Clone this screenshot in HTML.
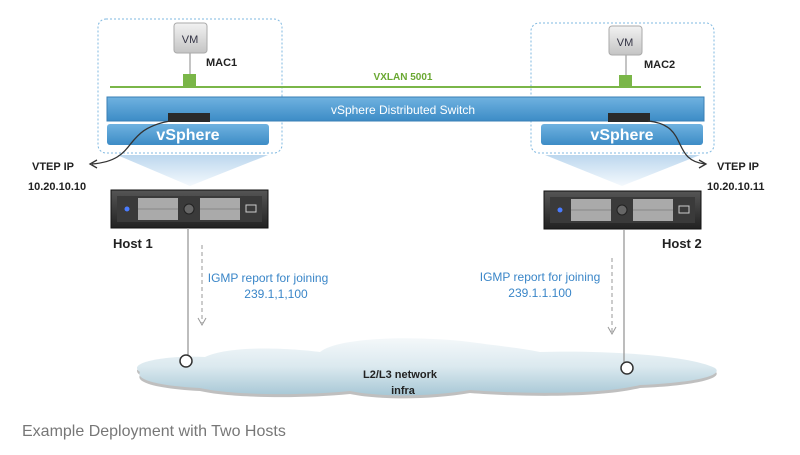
<!DOCTYPE html>
<html><head><meta charset="utf-8"><style>
body{margin:0;background:#fff;width:800px;height:450px;overflow:hidden;font-family:"Liberation Sans",sans-serif}
</style></head><body>
<svg width="800" height="450" viewBox="0 0 800 450" xmlns="http://www.w3.org/2000/svg" font-family="Liberation Sans, sans-serif">
<defs>
<linearGradient id="tri" x1="0" y1="0" x2="0" y2="1"><stop offset="0" stop-color="#bcd7ee"/><stop offset="1" stop-color="#f4f9fd"/></linearGradient>
<linearGradient id="vm" x1="0" y1="0" x2="0" y2="1"><stop offset="0" stop-color="#f2f2f2"/><stop offset="1" stop-color="#c4c4c4"/></linearGradient>
<linearGradient id="vs" x1="0" y1="0" x2="0" y2="1"><stop offset="0" stop-color="#6fb2e0"/><stop offset="1" stop-color="#3d8cc6"/></linearGradient>
<linearGradient id="cl" gradientUnits="userSpaceOnUse" x1="0" y1="338" x2="0" y2="395"><stop offset="0" stop-color="#f4f8fa"/><stop offset="0.5" stop-color="#dbe9ef"/><stop offset="1" stop-color="#a8c8d6"/></linearGradient>
<linearGradient id="srv" x1="0" y1="0" x2="0" y2="1"><stop offset="0" stop-color="#555"/><stop offset="1" stop-color="#222"/></linearGradient>
</defs>
<polygon points="117,155 268,155 190,186" fill="url(#tri)"/>
<polygon points="545,155 700,155 622,186" fill="url(#tri)"/>
<rect x="98" y="19" width="184" height="134" rx="8" fill="none" stroke="#7fb8e0" stroke-dasharray="2,2"/>
<rect x="531" y="23" width="183" height="130" rx="8" fill="none" stroke="#7fb8e0" stroke-dasharray="2,2"/>
<line x1="190" y1="53" x2="190" y2="80" stroke="#888"/>
<line x1="626" y1="55" x2="626" y2="80" stroke="#888"/>
<rect x="174" y="23" width="33" height="30" rx="3" fill="url(#vm)" stroke="#aaa"/>
<text x="190" y="43" font-size="11" fill="#334" text-anchor="middle">VM</text>
<rect x="609" y="26" width="33" height="29" rx="3" fill="url(#vm)" stroke="#aaa"/>
<text x="625" y="46" font-size="11" fill="#334" text-anchor="middle">VM</text>
<text x="206" y="66" font-size="11" font-weight="bold" fill="#222">MAC1</text>
<text x="644" y="68" font-size="11" font-weight="bold" fill="#222">MAC2</text>
<line x1="110" y1="87" x2="701" y2="87" stroke="#7ab648" stroke-width="2"/>
<rect x="183" y="74" width="13" height="14" fill="#7ab648"/>
<rect x="619" y="75" width="13" height="13" fill="#7ab648"/>
<text x="403" y="80" font-size="10" font-weight="bold" fill="#6aa832" text-anchor="middle">VXLAN 5001</text>
<rect x="107" y="97" width="597" height="24" fill="url(#vs)" stroke="#3a7fb5"/>
<text x="403" y="114" font-size="12" fill="#fff" text-anchor="middle">vSphere Distributed Switch</text>
<rect x="107" y="124" width="162" height="21" rx="3" fill="url(#vs)"/>
<text x="188" y="140" font-size="16" font-weight="bold" fill="#fff" text-anchor="middle">vSphere</text>
<rect x="541" y="124" width="162" height="21" rx="3" fill="url(#vs)"/>
<text x="622" y="140" font-size="16" font-weight="bold" fill="#fff" text-anchor="middle">vSphere</text>
<rect x="168" y="113" width="42" height="9" fill="#2a2a2a"/>
<rect x="608" y="113" width="42" height="9" fill="#2a2a2a"/>
<path d="M170,121 C120,130 140,160 92,164" fill="none" stroke="#333" stroke-width="1.3"/>
<path d="M97,160 L90,164 L97,168" fill="none" stroke="#333" stroke-width="1.3"/>
<path d="M648,121 C690,125 670,160 705,164" fill="none" stroke="#333" stroke-width="1.3"/>
<path d="M699,160 L706,164 L699,168" fill="none" stroke="#333" stroke-width="1.3"/>
<text x="32" y="170" font-size="11" font-weight="bold" fill="#222">VTEP IP</text>
<text x="28" y="190" font-size="11" font-weight="bold" fill="#222">10.20.10.10</text>
<text x="717" y="170" font-size="11" font-weight="bold" fill="#222">VTEP IP</text>
<text x="707" y="190" font-size="11" font-weight="bold" fill="#222">10.20.10.11</text>
<g>
<rect x="111" y="190" width="157" height="38" fill="url(#srv)" stroke="#111"/>
<rect x="117" y="196" width="145" height="26" fill="#3a3a3a"/>
<circle cx="127" cy="209" r="2.5" fill="#4a7cff"/>
<rect x="138" y="198" width="40" height="22" fill="#aaa"/><line x1="138" y1="209" x2="178" y2="209" stroke="#888"/>
<circle cx="189" cy="209" r="5" fill="#666" stroke="#222"/>
<rect x="200" y="198" width="40" height="22" fill="#aaa"/><line x1="200" y1="209" x2="240" y2="209" stroke="#888"/>
<rect x="246" y="205" width="10" height="7" fill="none" stroke="#ccc"/>
</g>
<g transform="translate(433,1)">
<rect x="111" y="190" width="157" height="38" fill="url(#srv)" stroke="#111"/>
<rect x="117" y="196" width="145" height="26" fill="#3a3a3a"/>
<circle cx="127" cy="209" r="2.5" fill="#4a7cff"/>
<rect x="138" y="198" width="40" height="22" fill="#aaa"/><line x1="138" y1="209" x2="178" y2="209" stroke="#888"/>
<circle cx="189" cy="209" r="5" fill="#666" stroke="#222"/>
<rect x="200" y="198" width="40" height="22" fill="#aaa"/><line x1="200" y1="209" x2="240" y2="209" stroke="#888"/>
<rect x="246" y="205" width="10" height="7" fill="none" stroke="#ccc"/>
</g>
<text x="113" y="248" font-size="13" font-weight="bold" fill="#222">Host 1</text>
<text x="662" y="248" font-size="13" font-weight="bold" fill="#222">Host 2</text>
<!-- cloud -->
<path d="M140,372 C125,362 170,355 205,357 C230,345 290,348 320,352 C340,336 420,336 470,342 C500,346 520,348 540,352 C600,350 690,355 715,368 C725,376 690,383 640,385 C600,395 520,394 470,390 C430,397 380,397 350,391 C300,396 230,395 200,388 C160,386 135,380 140,372 Z" fill="#8a8a8a" opacity="0.55" transform="translate(0,3)"/>
<path d="M140,372 C125,362 170,355 205,357 C230,345 290,348 320,352 C340,336 420,336 470,342 C500,346 520,348 540,352 C600,350 690,355 715,368 C725,376 690,383 640,385 C600,395 520,394 470,390 C430,397 380,397 350,391 C300,396 230,395 200,388 C160,386 135,380 140,372 Z" fill="url(#cl)"/>
<text x="400" y="378" font-size="11" font-weight="bold" fill="#222" text-anchor="middle">L2/L3 network</text>
<text x="403" y="394" font-size="11" font-weight="bold" fill="#222" text-anchor="middle">infra</text>
<line x1="188" y1="228" x2="188" y2="355" stroke="#999" stroke-width="1.3"/>
<circle cx="186" cy="361" r="6" fill="#fff" stroke="#333" stroke-width="1.5"/>
<line x1="624" y1="230" x2="624" y2="362" stroke="#999" stroke-width="1.3"/>
<circle cx="627" cy="368" r="6" fill="#fff" stroke="#333" stroke-width="1.5"/>
<line x1="202" y1="245" x2="202" y2="323" stroke="#999" stroke-dasharray="4,3"/>
<path d="M198,318 L202,325 L206,318" fill="none" stroke="#999"/>
<line x1="612" y1="258" x2="612" y2="332" stroke="#999" stroke-dasharray="4,3"/>
<path d="M608,327 L612,334 L616,327" fill="none" stroke="#999"/>
<text x="268" y="282" font-size="12" fill="#3a86c8" text-anchor="middle">IGMP report for joining</text>
<text x="276" y="298" font-size="12" fill="#3a86c8" text-anchor="middle">239.1,1,100</text>
<text x="540" y="281" font-size="12" fill="#3a86c8" text-anchor="middle">IGMP report for joining</text>
<text x="540" y="297" font-size="12" fill="#3a86c8" text-anchor="middle">239.1.1.100</text>
<text x="22" y="436" font-size="16" fill="#777">Example Deployment with Two Hosts</text>
</svg>
</body></html>
